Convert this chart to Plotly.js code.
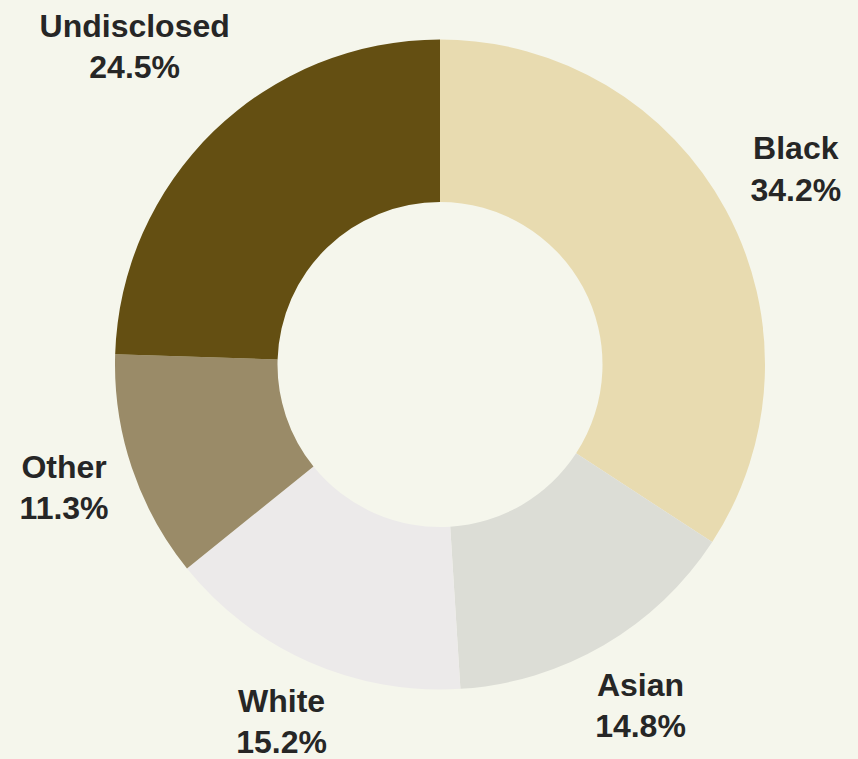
<!DOCTYPE html>
<html>
<head>
<meta charset="utf-8">
<script src="https://cdn.plot.ly/plotly-3.0.1.min.js"></script>
<style>html,body{margin:0;padding:0;background:#F5F6EC;}</style>
</head>
<body>
<div id="chart" style="width:858px;height:759px;"></div>
<script>
const categories = ["Black", "Asian", "White", "Other", "Undisclosed"];
const shares = [34.2, 14.8, 15.2, 11.3, 24.5];
const sliceColors = ["#E8DBB0", "#DCDDD6", "#ECEAEA", "#9A8B68", "#644F12"];

const W = 858, H = 759;
const cx = 440, cy = 364.5, r = 325;
// label distance from the centre, as a multiple of the outer radius
const labelDist = [1.245, 1.225, 1.21, 1.22, 1.35];

const total = shares.reduce((a, b) => a + b, 0);
let cum = 0;
const lx = [], ly = [], ltext = [];
shares.forEach((v, i) => {
  const mid = (cum + v / 2) / total * 2 * Math.PI;
  cum += v;
  const R = r * labelDist[i];
  lx.push(cx + R * Math.sin(mid));
  ly.push(cy - R * Math.cos(mid));
  ltext.push("<b>" + categories[i] + "</b><br><b>" + (v / total * 100).toFixed(1) + "%</b>");
});

const pie = {
  type: "pie",
  labels: categories,
  values: shares,
  sort: false,
  direction: "clockwise",
  rotation: 0,
  hole: 0.5,
  marker: {colors: sliceColors, line: {width: 0}},
  textinfo: "none",
  showlegend: false,
  domain: {
    x: [(cx - r) / W, (cx + r) / W],
    y: [(H - cy - r) / H, (H - cy + r) / H]
  }
};

const labelsTrace = {
  type: "scatter",
  mode: "text",
  x: lx, y: ly,
  text: ltext,
  textposition: "middle center",
  textfont: {family: "Liberation Sans, Arial, sans-serif", size: 32, color: "#262626"},
  showlegend: false,
  hoverinfo: "skip",
  cliponaxis: false
};

const layout = {
  width: W, height: H,
  margin: {l: 0, r: 0, t: 0, b: 0},
  paper_bgcolor: "#F5F6EC",
  plot_bgcolor: "rgba(0,0,0,0)",
  showlegend: false,
  xaxis: {range: [0, W], visible: false, fixedrange: true},
  yaxis: {range: [H, 0], visible: false, fixedrange: true}
};

Plotly.newPlot("chart", [pie, labelsTrace], layout, {displayModeBar: false, staticPlot: true});
</script>
</body>
</html>
